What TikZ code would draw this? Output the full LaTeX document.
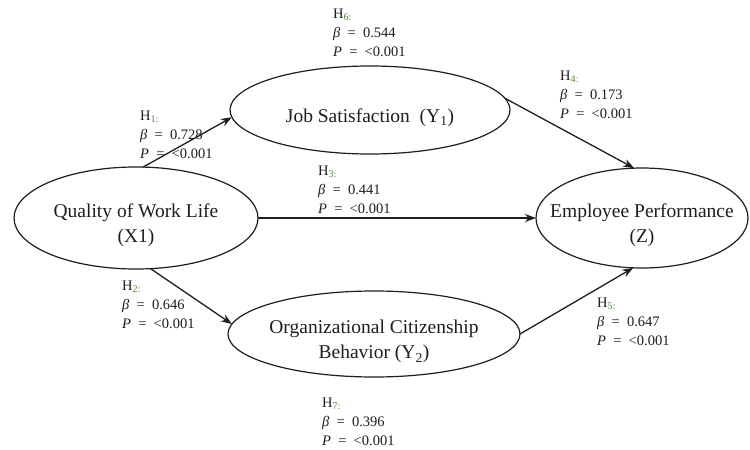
\documentclass[tikz,border=0pt]{standalone}
\usepackage{fontspec}
\setmainfont{Liberation Serif}
\usetikzlibrary{arrows.meta,shapes.geometric}
\definecolor{hgreen}{RGB}{80,140,50}
\definecolor{ink}{RGB}{30,30,30}
\newcommand{\eqsp}{\hspace{0.5em}=\hspace{0.5em}}
\newcommand{\dn}{\rule{0pt}{29pt}}
\newcommand{\statlbl}[2]{H\textsubscript{\textcolor{hgreen}{#1:}}\\\textit{β}\eqsp #2\\\textit{P}\eqsp <0.001}
\begin{document}
\begin{tikzpicture}[x=1pt,y=-1pt,
  var/.style={ellipse, draw=ink, line width=1.2pt, inner xsep=-70pt, inner ysep=-30pt, outer sep=0pt, align=center, text=ink, font=\fontsize{19.5}{25}\selectfont},
  stat/.style={anchor=north west, align=left, inner sep=0pt, text=ink, font=\fontsize{14.5}{19}\selectfont},
  arr/.style={draw=ink, line width=1.3pt, -{Stealth[length=11pt,width=8pt]}}]
\useasboundingbox (0,0) rectangle (750,450);
\fill[white] (0,0) rectangle (750,450);

\node[var, minimum width=244pt, minimum height=102pt] (Q) at (136,218) {\dn Quality of Work Life\\(X1)};
\node[var, minimum width=280pt, minimum height=88pt] (JS) at (370,110) {\dn Job Satisfaction\ \ (Y\textsubscript{1})};
\node[var, minimum width=212pt, minimum height=100pt] (EP) at (642,218) {\dn Employee Performance\\(Z)};
\node[var, minimum width=292pt, minimum height=86pt] (OCB) at (374,334) {\dn Organizational Citizenship\\Behavior (Y\textsubscript{2})};

\draw[arr] (Q.82) -- (JS.183);
\draw[arr] (Q) -- (EP);
\draw[arr] (Q.286) -- (OCB.176);
\draw[arr] (JS.5) -- (EP.99);
\draw[arr] (OCB.0) -- (EP.260);

\node[stat] (h6) at (333,9) {\statlbl{6}{0.544}};
\node[stat] (h1) at (140,111) {\statlbl{1}{0.728}};
\node[stat] (h4) at (560,71) {\statlbl{4}{0.173}};
\node[stat] (h3) at (318,166) {\statlbl{3}{0.441}};
\node[stat] (h2) at (122,281) {\statlbl{2}{0.646}};
\node[stat] (h5) at (597,298) {\statlbl{5}{0.647}};
\node[stat] (h7) at (322,398) {\statlbl{7}{0.396}};
\end{tikzpicture}
\end{document}
